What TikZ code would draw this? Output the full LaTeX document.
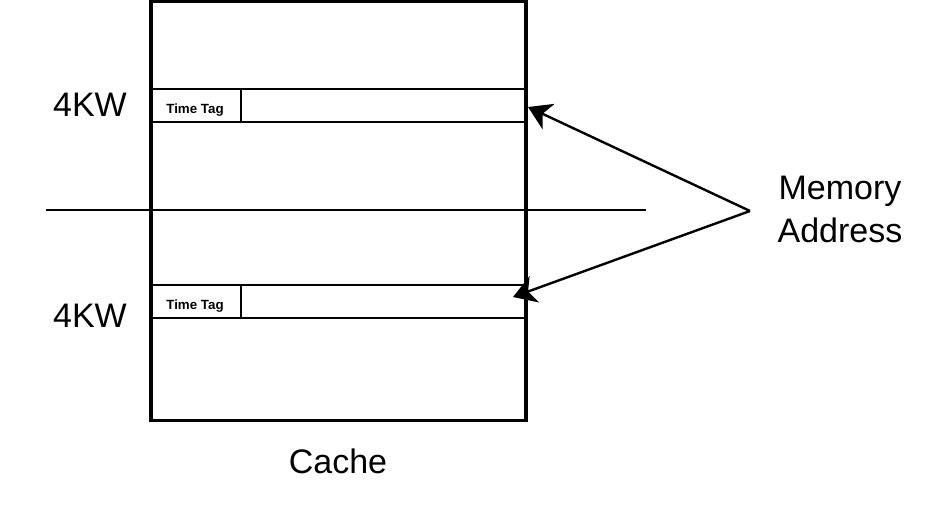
\documentclass[tikz,border=0pt]{standalone}
\usepackage{fontspec}
\setmainfont{Liberation Sans}
\usetikzlibrary{arrows.meta}
\begin{document}
\begin{tikzpicture}[x=0.75pt,y=-0.75pt,
  cachebox/.style={draw,line width=2.4pt,inner sep=0pt,outer sep=0pt,minimum width=281.25pt,minimum height=314.6pt},
  slotline/.style={draw,line width=1.6pt},
  bigtext/.style={font=\fontsize{25.5}{32.25}\selectfont,inner sep=0pt,anchor=base},
  tagtext/.style={font=\bfseries\fontsize{10}{12}\selectfont,inner sep=0pt,anchor=base},
  arr/.style={line width=1.8pt,-{Stealth[length=17pt,width=21pt,inset=5pt]}}]
\useasboundingbox (0,0) rectangle (930,513);
% cache block
\node[cachebox] (cache) at (338.5,211) {};
% slot 1
\coordinate (s1a) at (0,89);
\coordinate (s1b) at (0,122);
\draw[slotline] (cache.west |- s1a) -- (cache.east |- s1a);
\draw[slotline] (cache.west |- s1b) -- (cache.east |- s1b);
\draw[slotline] (241,89) -- (241,122);
\node[tagtext] (tag1) at (195,114) {Time Tag};
% slot 2
\coordinate (s2a) at (0,285);
\coordinate (s2b) at (0,318);
\draw[slotline] (cache.west |- s2a) -- (cache.east |- s2a);
\draw[slotline] (cache.west |- s2b) -- (cache.east |- s2b);
\draw[slotline] (241,285) -- (241,318);
\node[tagtext] (tag2) at (195,309) {Time Tag};
% divider
\coordinate (dl) at (46,210);
\coordinate (dr) at (646,210);
\draw[slotline] (dl) -- (dr);
% labels
\node[bigtext] (kw1) at (90,117) {4KW};
\node[bigtext] (kw2) at (90,327) {4KW};
\node[bigtext,align=center] (mem) at (840,243) {Memory\\Address};
\node[bigtext] (cachelbl) at (338,473) {Cache};
% arrows
\coordinate (src) at (750,211);
\coordinate (t1) at (528,107);
\coordinate (t2) at (513,297);
\draw[arr] (src) -- (t1);
\draw[arr] (src) -- (t2);
\end{tikzpicture}
\end{document}
